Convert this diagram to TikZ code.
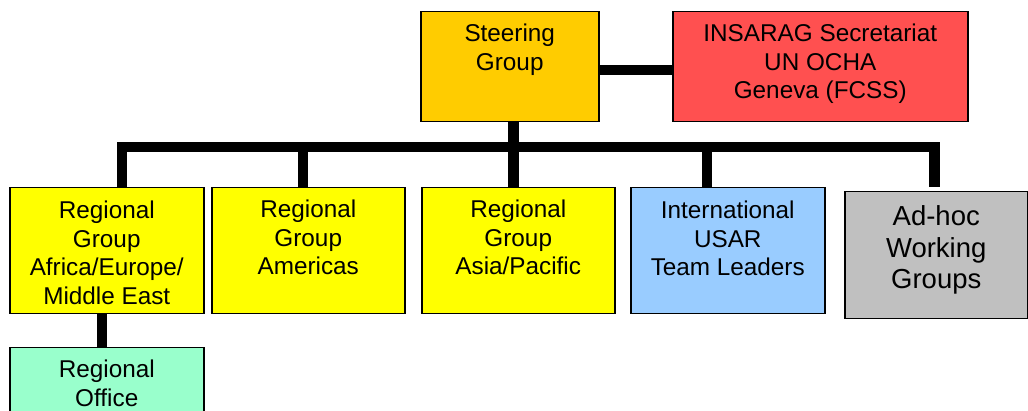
\documentclass[tikz,border=0pt]{standalone}
\usepackage{fontspec}
\setmainfont{Liberation Sans}
\definecolor{steerc}{HTML}{FFCC00}
\definecolor{redc}{HTML}{FF5050}
\definecolor{yelc}{HTML}{FFFF00}
\definecolor{bluec}{HTML}{99CCFF}
\definecolor{grayc}{HTML}{C0C0C0}
\definecolor{officec}{HTML}{99FFCC}
\newcommand\bxt[4]{\parbox[c][#2pt][t]{#1pt}{\centering\rule{0pt}{#3pt}#4\par}}
\begin{document}
\begin{tikzpicture}[x=1pt,y=-1pt,
  orgbox/.style={draw=black, line width=1.5pt, inner sep=0pt, anchor=north west,
    font=\fontsize{24.3}{28.7}\selectfont},
  bigbox/.style={orgbox, font=\fontsize{27.5}{31.6}\selectfont},
  conn/.style={line width=10.5pt, black, line join=miter}]
\clip (0,0) rectangle (1028,411);
\fill[white] (0,0) rectangle (1028,411);
\node[orgbox, fill=steerc] (steer) at (420,11) {\bxt{178}{110}{29.6}{Steering\\Group}};
\node[orgbox, fill=redc] (red) at (672,11) {\bxt{295}{110}{29.6}{INSARAG Secretariat\\UN OCHA\\Geneva (FCSS)}};
\node[orgbox, fill=yelc] (afr) at (9,187) {\bxt{194}{126}{30.6}{Regional\\Group\\Africa/Europe/\\Middle East}};
\node[orgbox, fill=yelc] (ame) at (211,187) {\bxt{193}{126}{29.6}{Regional\\Group\\Americas}};
\node[orgbox, fill=yelc] (asia) at (421,187) {\bxt{193}{126}{29.6}{Regional\\Group\\Asia/Pacific}};
\node[orgbox, fill=bluec] (blue) at (630,187) {\bxt{194}{126}{30.6}{International\\USAR\\Team Leaders}};
\node[bigbox, fill=grayc] (gray) at (844,191) {\bxt{183}{127}{33.8}{Ad-hoc\\Working\\Groups}};
\node[orgbox, fill=officec] (office) at (9,347) {\bxt{194}{90}{29.6}{Regional\\Office}};
\coordinate (hsec) at (0,70);
\coordinate (bus) at (0,147);
\coordinate (xafr) at (122,0);
\coordinate (xame) at (303,0);
\coordinate (xmid) at (513.5,0);
\coordinate (xblue) at (707,0);
\coordinate (xgray) at (934.5,0);
\coordinate (xoff) at (102,0);
\draw[conn] (steer.east |- hsec) -- (red.west |- hsec);
\draw[conn] (steer.south -| xmid) -- (asia.north -| xmid);
\draw[conn] (afr.north -| xafr) |- (bus -| xgray) -- ([yshift=4pt]gray.north -| xgray);
\draw[conn] (bus -| xame) -- (ame.north -| xame);
\draw[conn] (bus -| xblue) -- (blue.north -| xblue);
\draw[conn] (afr.south -| xoff) -- (office.north -| xoff);
\end{tikzpicture}
\end{document}
